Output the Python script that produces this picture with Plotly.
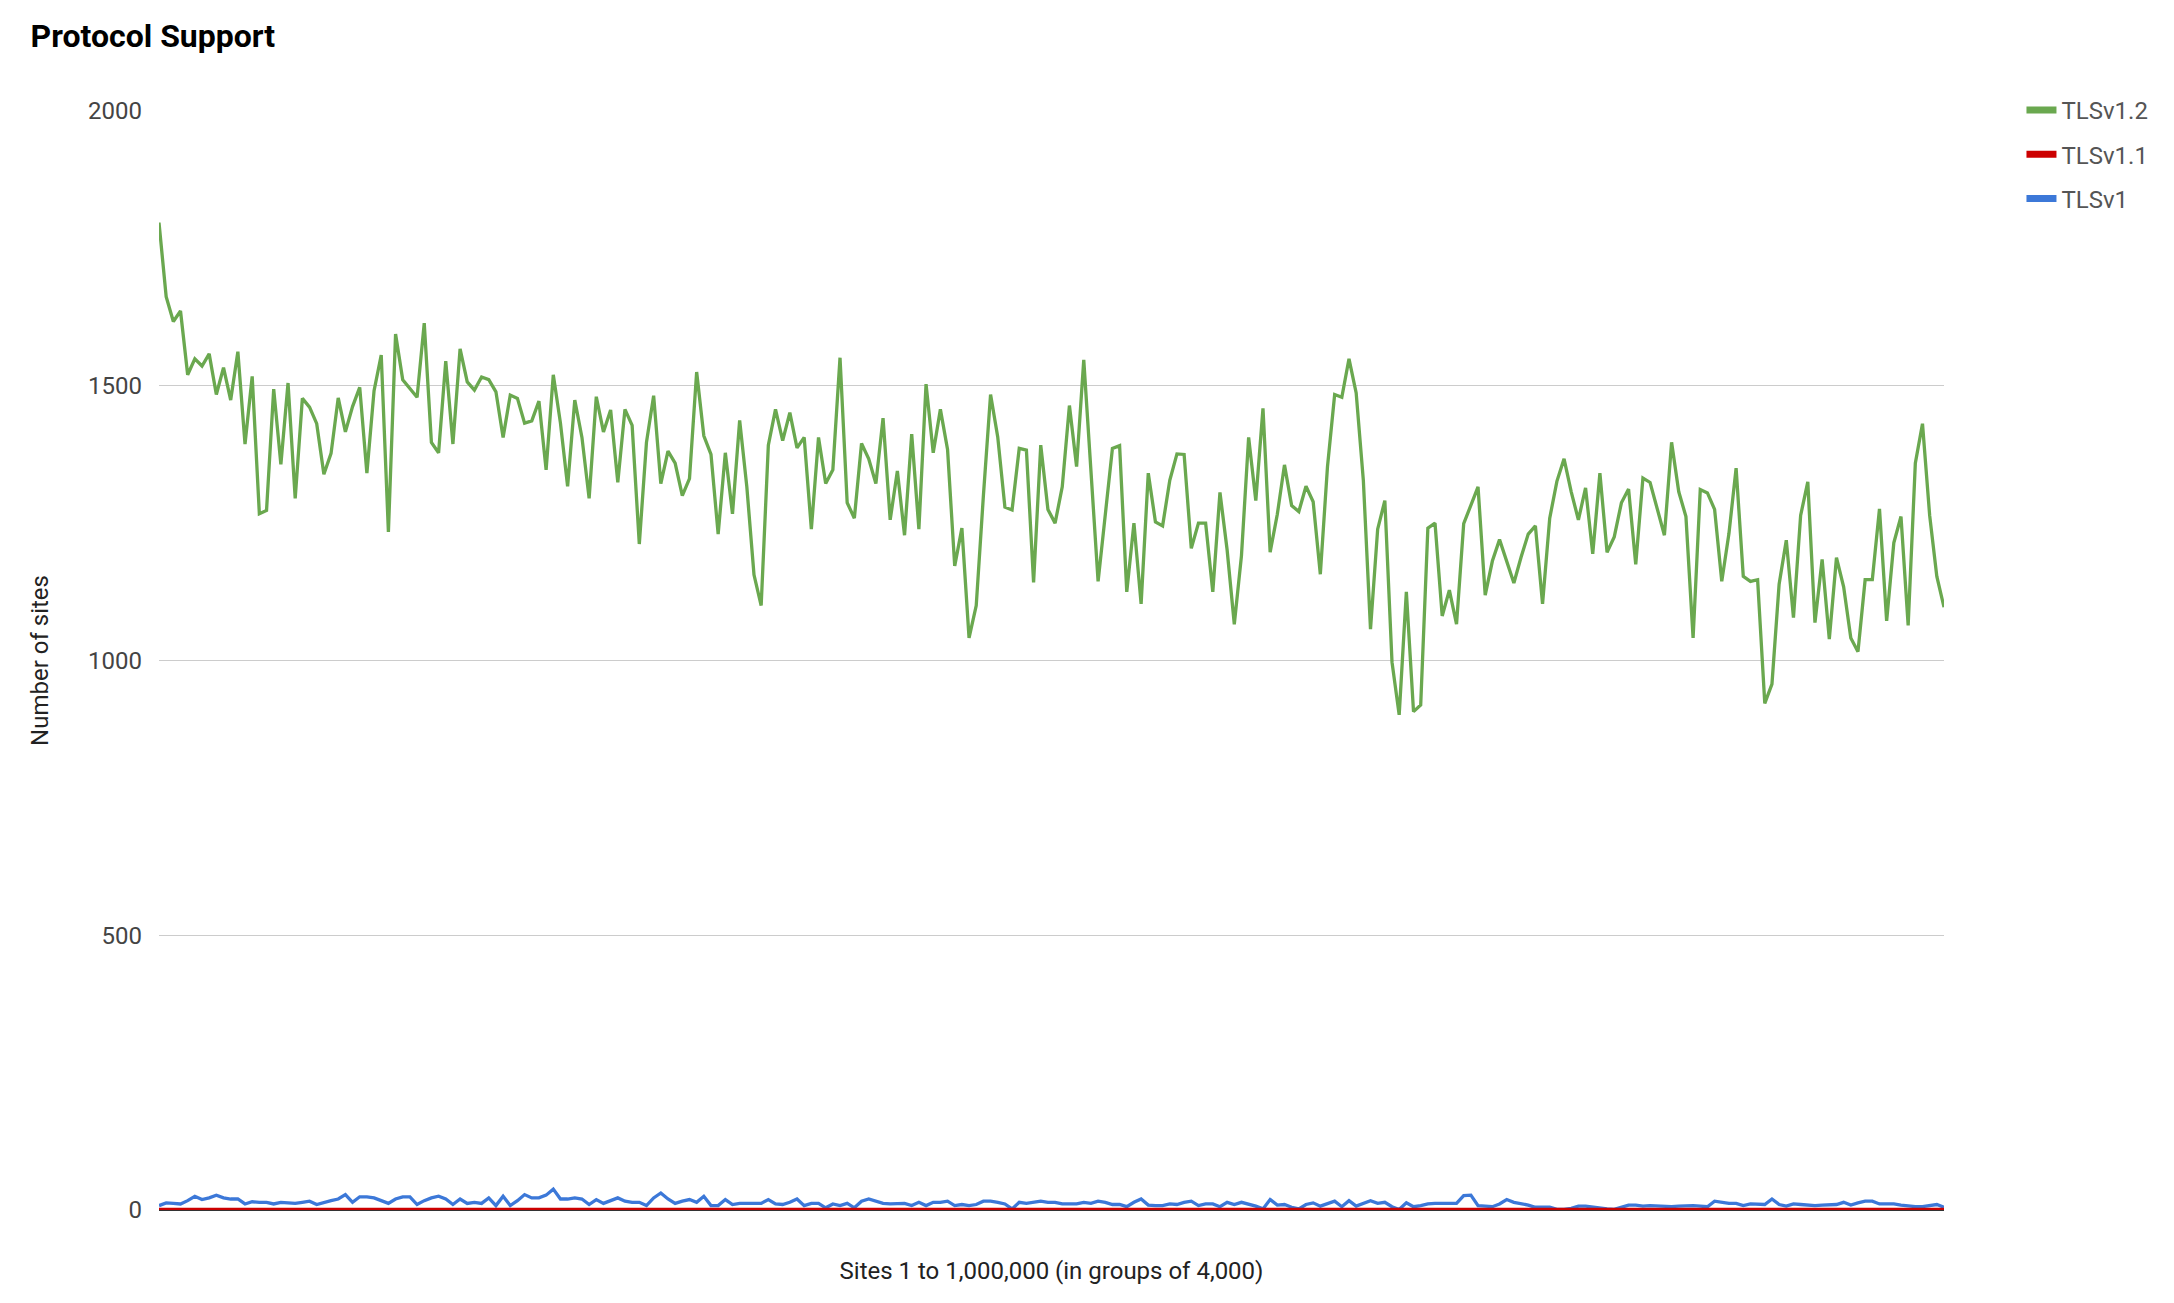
import plotly.graph_objects as go

# ---- data ----
tls12 = [
    1797, 1662, 1617, 1636, 1520, 1549, 1536, 1558, 1484, 1533,
    1474, 1562, 1394, 1517, 1267, 1273, 1494, 1357, 1505, 1295,
    1477, 1461, 1431, 1339, 1377, 1478, 1416, 1462, 1497, 1341,
    1491, 1556, 1234, 1594, 1511, 1495, 1479, 1614, 1397, 1378,
    1545, 1394, 1567, 1507, 1492, 1516, 1511, 1489, 1406, 1483,
    1477, 1432, 1436, 1472, 1347, 1520, 1432, 1317, 1474, 1406,
    1295, 1480, 1416, 1456, 1324, 1457, 1428, 1212, 1397, 1482,
    1322, 1381, 1359, 1300, 1331, 1525, 1409, 1375, 1230, 1378,
    1267, 1437, 1316, 1156, 1100, 1392, 1457, 1400, 1451, 1387,
    1406, 1239, 1406, 1322, 1347, 1551, 1287, 1259, 1395, 1367,
    1322, 1441, 1256, 1345, 1228, 1412, 1239, 1503, 1378, 1457,
    1384, 1172, 1241, 1041, 1100, 1300, 1484, 1407, 1279, 1274,
    1386, 1383, 1142, 1392, 1275, 1250, 1316, 1464, 1353, 1547,
    1346, 1144, 1265, 1386, 1391, 1125, 1250, 1103, 1341, 1252,
    1245, 1328, 1376, 1375, 1204, 1250, 1250, 1125, 1306, 1201,
    1066, 1191, 1406, 1291, 1459, 1197, 1266, 1356, 1282, 1271,
    1317, 1289, 1157, 1353, 1484, 1479, 1549, 1487, 1328, 1057,
    1239, 1291, 997, 901, 1125, 907, 919, 1241, 1250, 1081,
    1128, 1066, 1249, 1284, 1316, 1119, 1181, 1220, 1181, 1141,
    1188, 1230, 1245, 1103, 1259, 1326, 1367, 1307, 1256, 1314,
    1194, 1341, 1197, 1225, 1287, 1312, 1175, 1332, 1324, 1278,
    1228, 1397, 1307, 1262, 1041, 1311, 1305, 1275, 1144, 1231,
    1350, 1153, 1144, 1147, 922, 957, 1139, 1219, 1078, 1264,
    1325, 1069, 1184, 1039, 1187, 1134, 1041, 1016, 1147, 1147,
    1276, 1072, 1214, 1262, 1064, 1359, 1431, 1264, 1153, 1097,
]

tls11 = [
    1, 1, 1, 1, 2, 1, 1, 2, 1, 1, 1, 1, 1, 1, 1, 2, 1, 1, 1, 1,
    1, 1, 2, 1, 1, 1, 1, 2, 1, 1, 1, 1, 1, 1, 1, 1, 1, 1, 2, 1,
    1, 1, 1, 1, 1, 2, 1, 1, 1, 1, 1, 1, 1, 1, 2, 1, 1, 1, 1, 1,
    1, 2, 1, 1, 1, 1, 1, 1, 1, 2, 1, 1, 1, 1, 1, 1, 1, 1, 1, 1,
    2, 1, 1, 1, 1, 1, 1, 1, 1, 1, 1, 2, 1, 1, 1, 1, 1, 1, 1, 1,
    1, 1, 1, 1, 2, 1, 1, 1, 1, 1, 1, 1, 1, 1, 1, 1, 1, 1, 1, 1,
    1, 1, 1, 1, 1, 1, 1, 1, 2, 1, 1, 1, 1, 1, 1, 1, 1, 1, 1, 1,
    1, 1, 2, 1, 1, 1, 1, 1, 1, 1, 1, 1, 1, 1, 1, 2, 1, 1, 1, 1,
    1, 1, 1, 1, 1, 1, 1, 1, 1, 1, 1, 1, 1, 1, 1, 1, 1, 1, 1, 2,
    1, 1, 1, 1, 1, 1, 1, 1, 1, 1, 1, 1, 1, 1, 1, 1, 1, 1, 1, 1,
    1, 1, 1, 1, 1, 1, 1, 1, 2, 1, 1, 1, 1, 1, 1, 1, 1, 1, 1, 1,
    1, 1, 1, 1, 1, 1, 1, 1, 1, 1, 1, 1, 1, 1, 1, 1, 1, 1, 1, 1,
    1, 1, 1, 1, 1, 1, 1, 1, 1, 1,
]

tls10 = [
    8, 13, 12, 11, 17, 25, 19, 22, 27, 22,
    20, 20, 11, 15, 14, 14, 11, 14, 13, 12,
    14, 16, 10, 14, 17, 20, 28, 14, 24, 24,
    22, 17, 12, 20, 24, 24, 10, 17, 22, 25,
    20, 10, 20, 12, 14, 12, 22, 8, 25, 8,
    17, 28, 22, 22, 27, 38, 20, 20, 22, 20,
    10, 19, 12, 17, 22, 16, 14, 14, 8, 22,
    31, 20, 12, 16, 19, 14, 25, 8, 8, 19,
    10, 12, 12, 12, 12, 19, 11, 10, 14, 20,
    8, 12, 12, 4, 11, 8, 12, 4, 16, 20,
    16, 12, 11, 12, 12, 8, 14, 8, 14, 14,
    16, 8, 10, 8, 10, 16, 16, 14, 11, 2,
    14, 12, 14, 16, 14, 14, 11, 11, 11, 14,
    12, 16, 14, 10, 10, 6, 14, 20, 9, 8,
    8, 11, 10, 14, 16, 8, 11, 11, 6, 14,
    10, 14, 11, 7, 2, 19, 9, 10, 5, 2,
    10, 13, 7, 11, 16, 6, 17, 7, 12, 17,
    12, 14, 6, 1, 13, 6, 8, 11, 12, 12,
    11, 12, 26, 27, 8, 7, 6, 11, 19, 14,
    12, 9, 5, 5, 5, 1, 1, 3, 7, 7,
    5, 3, 2, 1, 5, 9, 9, 7, 8, 7,
    6, 6, 7, 8, 8, 7, 6, 16, 14, 12,
    12, 8, 11, 11, 10, 20, 10, 7, 11, 10,
    9, 8, 9, 10, 10, 14, 9, 13, 16, 16,
    11, 11, 11, 9, 7, 6, 6, 8, 10, 5,
]

groups = list(range(1, len(tls12) + 1))

series = [
    ("TLSv1.2", tls12, "#6aa84f"),
    ("TLSv1.1", tls11, "#cc0000"),
    ("TLSv1", tls10, "#3c78d8"),
]

FONT = "Roboto, Arial, sans-serif"

fig = go.Figure()
# data lines: blue drawn first, green on top
for name, vals, col in reversed(series):
    fig.add_trace(go.Scatter(
        x=groups, y=vals, mode="lines", name=name,
        line=dict(color=col, width=3.3),
        showlegend=False, hoverinfo="skip",
    ))
# legend entries (thicker swatches like the reference)
for rank, (name, vals, col) in enumerate(series):
    fig.add_trace(go.Scatter(
        x=[None], y=[None], mode="lines", name=name,
        line=dict(color=col, width=7),
        legendrank=rank + 1, legendgroup=name, hoverinfo="skip",
    ))

fig.update_layout(
    width=2174, height=1303,
    paper_bgcolor="white", plot_bgcolor="white",
    margin=dict(l=151, r=238, t=103, b=101),
    title=dict(text="<b>Protocol Support</b>", x=0.0104, xanchor="left",
               y=0.9785, yanchor="middle",
               font=dict(family=FONT, size=32, color="#000000")),
    font=dict(family=FONT, color="#444444"),
    xaxis=dict(range=[1, len(tls12)], showticklabels=False, showgrid=False,
               zeroline=False, showline=False, ticks="",
               title=dict(text="Sites 1 to 1,000,000 (in groups of 4,000)",
                          font=dict(family=FONT, size=24, color="#222222"),
                          standoff=52)),
    yaxis=dict(range=[0, 2000], tickvals=[0, 500, 1000, 1500, 2000],
               showgrid=True, gridcolor="#cccccc", gridwidth=1.3,
               zeroline=True, zerolinecolor="#333333", zerolinewidth=1.5,
               showline=False, ticks="", ticklabelstandoff=16,
               tickfont=dict(family=FONT, size=24, color="#444444"),
               title=dict(text="Number of sites",
                          font=dict(family=FONT, size=24, color="#222222"),
                          standoff=32)),
    legend=dict(x=1.0434, xanchor="left", y=1.021, yanchor="top",
                font=dict(family=FONT, size=24, color="#555555"),
                tracegroupgap=10, itemwidth=30, bgcolor="rgba(0,0,0,0)"),
    showlegend=True,
)

fig.write_html("out.html", config={"displayModeBar": False})
